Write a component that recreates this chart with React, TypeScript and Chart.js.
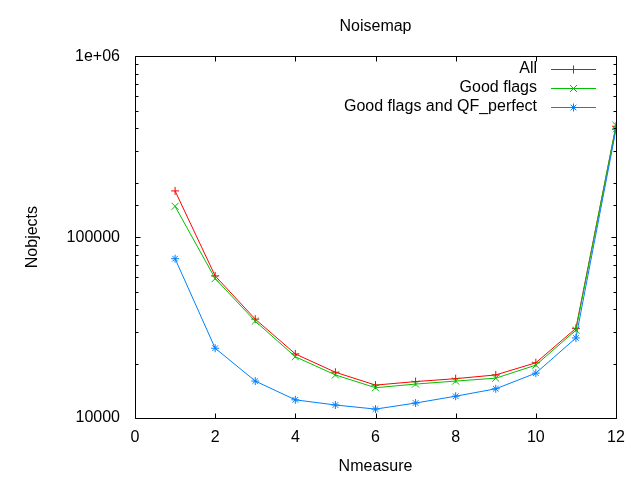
import { useEffect, useRef } from "react"
import { Chart, registerables } from "chart.js"
import { drawPoint } from "chart.js/helpers"

Chart.register(...registerables)

const nmeasure = [1, 2, 3, 4, 5, 6, 7, 8, 9, 10, 11, 12]
const allObjects = [180000, 61000, 35200, 22600, 17900, 15200, 15900, 16500, 17300, 20200, 31300, 410000]
const goodFlags = [148000, 59000, 34300, 21800, 17300, 14700, 15400, 16000, 16600, 19600, 30600, 415000]
const goodFlagsQF = [76000, 24300, 16000, 12600, 11800, 11200, 12100, 13200, 14500, 17700, 27700, 394000]
const seriesLabels = ["All", "Good flags", "Good flags and QF_perfect"]
const seriesColors = ["#ff0000", "#00c000", "#0080ff"]
const yLabels: Record<number, string> = { 10000: "10000", 100000: "100000", 1000000: "1e+06" }

const FONT = "'Liberation Sans', Arial, sans-serif"
const FONT_SIZE = 16

// gnuplot-like frame with inward ticks on all four sides
const gnuplotFrame = {
  id: "gnuplotFrame",
  afterDatasetsDraw(chart: any) {
    const { ctx, chartArea: a, scales } = chart
    const L = Math.round(a.left) + 0.5
    const R = Math.round(a.right) + 0.5
    const T = Math.round(a.top) + 0.5
    const B = Math.round(a.bottom) + 0.5
    ctx.save()
    ctx.strokeStyle = "#000"
    ctx.lineWidth = 1
    ctx.beginPath()
    ctx.rect(L, T, R - L, B - T)
    for (const t of scales.x.ticks) {
      const px = Math.round(scales.x.getPixelForValue(t.value)) + 0.5
      ctx.moveTo(px, B); ctx.lineTo(px, B - 5)
      ctx.moveTo(px, T); ctx.lineTo(px, T + 5)
    }
    for (const t of scales.y.ticks) {
      const lg = Math.log10(t.value)
      const major = Math.abs(lg - Math.round(lg)) < 1e-9
      const len = major ? 5 : 3
      const py = Math.round(scales.y.getPixelForValue(t.value)) + 0.5
      ctx.moveTo(L, py); ctx.lineTo(L + len, py)
      ctx.moveTo(R, py); ctx.lineTo(R - len, py)
    }
    ctx.stroke()
    ctx.restore()
  },
  // legend in the top right corner, text right-aligned before the sample
  afterDraw(chart: any) {
    const { ctx } = chart
    ctx.save()
    ctx.font = `${FONT_SIZE}px ${FONT}`
    ctx.textAlign = "right"
    ctx.textBaseline = "middle"
    chart.data.datasets.forEach((ds: any, i: number) => {
      const y = 69 + i * 19
      const color = seriesColors[i]
      ctx.fillStyle = "#000"
      ctx.fillText(seriesLabels[i], 537, y)
      ctx.lineWidth = 1
      ctx.strokeStyle = color
      ctx.fillStyle = color
      ctx.beginPath()
      ctx.moveTo(551, y + 0.5)
      ctx.lineTo(596, y + 0.5)
      ctx.stroke()
      drawPoint(ctx, { pointStyle: ds.pointStyle, radius: ds.pointRadius, borderWidth: 1, rotation: 0 }, 573.5, y + 0.5)
    })
    ctx.restore()
  },
}

export default function App() {
  const chartRef = useRef<HTMLCanvasElement>(null)
  const chartInstance = useRef<Chart | null>(null)

  useEffect(() => {
    if (!chartRef.current) return
    if (chartInstance.current) chartInstance.current.destroy()
    const ctx = chartRef.current.getContext("2d")
    if (!ctx) return

    const seriesData = [allObjects, goodFlags, goodFlagsQF]
    const styles = ["cross", "crossRot", "star"]
    const radii = [4, 5, 4]

    chartInstance.current = new Chart(ctx, {
      type: "line",
      data: {
        datasets: seriesData.map((d, k) => ({
          label: seriesLabels[k],
          data: nmeasure.map((x, i) => ({ x, y: d[i] })),
          borderColor: seriesColors[k],
          backgroundColor: seriesColors[k],
          borderWidth: 1,
          pointStyle: styles[k],
          pointRadius: radii[k],
          pointBorderWidth: 1,
          pointBorderColor: seriesColors[k],
          order: 3 - k,
          tension: 0,
        })),
      },
      options: {
        responsive: false,
        animation: false,
        layout: { padding: { left: 0, right: 24, top: 0, bottom: 0 } },
        scales: {
          x: {
            type: "linear",
            min: 0,
            max: 12,
            ticks: { stepSize: 2, color: "#000", font: { family: FONT, size: FONT_SIZE }, padding: 10 },
            grid: { display: false, drawTicks: false },
            border: { display: false },
            title: { display: true, text: "Nmeasure", color: "#000", font: { family: FONT, size: FONT_SIZE }, padding: { top: 0, bottom: 4 } },
            afterFit: (s: any) => { s.height = 62 },
          },
          y: {
            type: "logarithmic",
            min: 10000,
            max: 1000000,
            ticks: {
              color: "#000",
              font: { family: FONT, size: FONT_SIZE },
              padding: 15,
              autoSkip: false,
              callback: (v: any) => yLabels[Number(v)] ?? "",
            },
            grid: { display: false, drawTicks: false },
            border: { display: false },
            title: { display: true, text: "Nobjects", color: "#000", font: { family: FONT, size: FONT_SIZE }, padding: { top: 23, bottom: 0 } },
            afterFit: (s: any) => { s.width = 135 },
          },
        },
        plugins: {
          legend: { display: false },
          tooltip: { enabled: false },
          title: {
            display: true,
            text: "Noisemap",
            color: "#000",
            fullSize: false,
            font: { family: FONT, size: FONT_SIZE, weight: "normal" },
            padding: { top: 17, bottom: 20 },
          },
        },
      },
      plugins: [gnuplotFrame],
    })

    return () => {
      if (chartInstance.current) {
        chartInstance.current.destroy()
        chartInstance.current = null
      }
    }
  }, [])

  return (
    <div style={{ position: "fixed", left: 0, top: 0, width: 640, height: 480, background: "#fff" }}>
      <canvas ref={chartRef} width={640} height={480}></canvas>
    </div>
  )
}
